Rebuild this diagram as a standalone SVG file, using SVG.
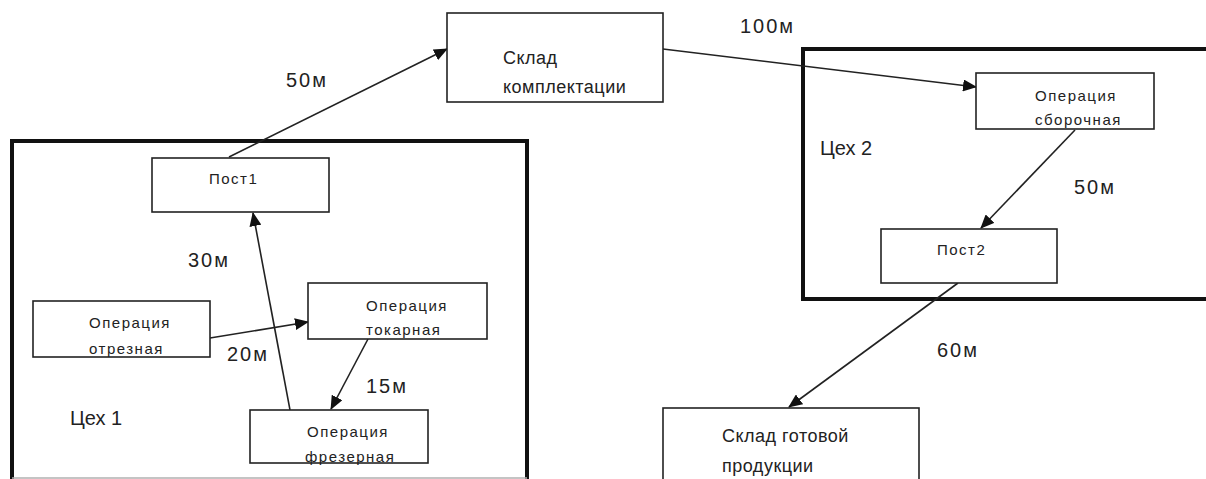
<svg xmlns="http://www.w3.org/2000/svg" width="1206" height="479" viewBox="0 0 1206 479">
<style>
.bg{fill:#ffffff}
.zone{fill:none;stroke:#111;stroke-width:4}
.zbot{stroke:#b0b0b0;stroke-width:1.5}
.box{fill:#ffffff;stroke:#222;stroke-width:1.6}
.t{font-family:"Liberation Sans",Arial,sans-serif;font-size:15px;fill:#222;letter-spacing:1.5px}
.tl{font-family:"Liberation Sans",Arial,sans-serif;font-size:18px;fill:#222;letter-spacing:0.5px}
.lbl{font-family:"Liberation Sans",Arial,sans-serif;font-size:20px;fill:#222;letter-spacing:2px}
.zl{font-family:"Liberation Sans",Arial,sans-serif;font-size:20px;fill:#222}
.conn{fill:none;stroke:#222;stroke-width:1.6;marker-end:url(#ah)}
.plain{fill:none;stroke:#222;stroke-width:1.6}
</style>
<defs>
<marker id="ah" markerUnits="userSpaceOnUse" markerWidth="14" markerHeight="12" refX="13" refY="6" orient="auto">
<path d="M0,0 L14,6 L0,12 Z" fill="#111"/>
</marker>
</defs>
<rect class="bg" x="0" y="0" width="1206" height="479"/>

<g id="zone1">
<path class="zone" d="M12,479 V141 H527 V479"/>
<line class="zbot" x1="12" y1="478" x2="527" y2="478"/>
<text class="zl" x="70" y="425">Цех 1</text>
</g>
<g id="zone2">
<rect class="zone" x="803" y="49" width="420" height="250"/>
<text class="zl" x="820" y="155">Цех 2</text>
</g>

<g id="connectors">
<path class="conn" d="M229,157 L447,49"/>
<path class="conn" d="M663,49 L976,87"/>
<path class="conn" d="M1075,130 L981,228"/>
<path class="conn" d="M958,283 L789,407"/>
<path class="conn" d="M210,338 L308,322"/>
<path class="conn" d="M368,339 L331,409"/>
<path class="conn" d="M290,410 L253,213"/>
</g>

<g id="labels">
<text class="lbl" x="286" y="87">50м</text>
<text class="lbl" x="740" y="33">100м</text>
<text class="lbl" x="1074" y="194">50м</text>
<text class="lbl" x="937" y="357">60м</text>
<text class="lbl" x="188" y="267">30м</text>
<text class="lbl" x="227" y="361">20м</text>
<text class="lbl" x="366" y="393">15м</text>
</g>

<g id="sklad-komplektacii">
<rect class="box" x="447" y="13" width="216" height="89"/>
<text class="tl" x="503" y="64">Склад</text>
<text class="tl" x="503" y="93">комплектации</text>
</g>

<g id="post1">
<rect class="box" x="152" y="158" width="177" height="54"/>
<text class="t" x="209" y="184">Пост1</text>
</g>

<g id="op-otreznaya">
<rect class="box" x="33" y="301" width="177" height="56"/>
<text class="t" x="89" y="328">Операция</text>
<text class="t" x="89" y="354">отрезная</text>
</g>

<g id="op-tokarnaya">
<rect class="box" x="308" y="283" width="179" height="56"/>
<text class="t" x="366" y="311">Операция</text>
<text class="t" x="366" y="335">токарная</text>
</g>

<g id="op-frezernaya">
<rect class="box" x="250" y="410" width="178" height="53"/>
<text class="t" x="307" y="437">Операция</text>
<text class="t" x="305" y="462">фрезерная</text>
</g>

<g id="op-sborochnaya">
<rect class="box" x="976" y="73" width="178" height="56"/>
<text class="t" x="1035" y="101">Операция</text>
<text class="t" x="1035" y="125">сборочная</text>
</g>

<g id="post2">
<rect class="box" x="881" y="229" width="176" height="54"/>
<text class="t" x="937" y="255">Пост2</text>
</g>

<g id="sklad-gotovoy">
<rect class="box" x="663" y="408" width="256" height="80"/>
<text class="tl" x="722" y="442">Склад готовой</text>
<text class="tl" x="722" y="472">продукции</text>
</g>
</svg>
